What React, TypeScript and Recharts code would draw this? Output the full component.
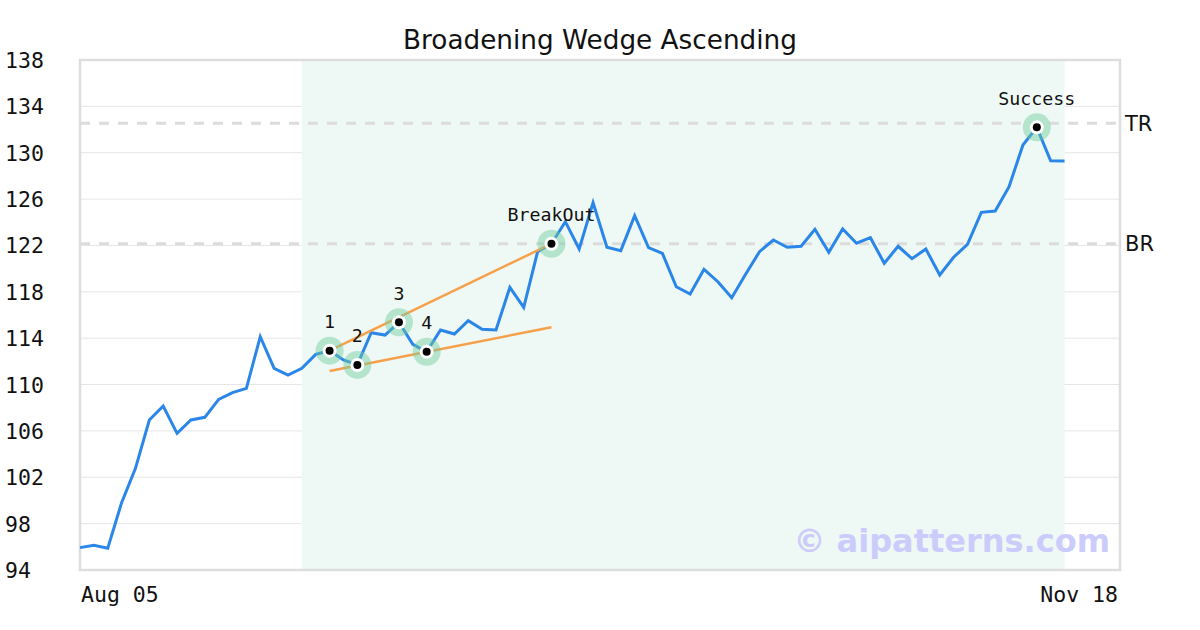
import React from "react"
import {
  ComposedChart,
  Line,
  Scatter,
  XAxis,
  YAxis,
  CartesianGrid,
  ReferenceArea,
  ReferenceLine,
} from "recharts"

// closing prices, one per trading day from Aug 05
const prices = [
  95.93, 96.13, 95.87, 99.81, 102.77, 106.94, 108.15, 105.79, 106.94, 107.17,
  108.72, 109.3, 109.67, 114.13, 111.4, 110.82, 111.4, 112.6, 112.92, 112.12,
  111.69, 114.47, 114.27, 115.37, 113.47, 112.83, 114.71, 114.36, 115.51, 114.77,
  114.71, 118.39, 116.66, 121.46, 122.15, 124.05, 121.69, 125.69, 121.84, 121.55,
  124.57, 121.81, 121.32, 118.44, 117.81, 119.94, 118.87, 117.49, 119.51, 121.46,
  122.47, 121.84, 121.93, 123.39, 121.41, 123.42, 122.19, 122.67, 120.46, 121.93,
  120.86, 121.69, 119.45, 120.98, 122.1, 124.86, 124.97, 127.07, 130.67, 132.19,
  129.31, 129.29,
]

const pivots = [
  { i: 18, v: 112.92, label: "1" },
  { i: 20, v: 111.69, label: "2" },
  { i: 23, v: 115.37, label: "3" },
  { i: 25, v: 112.83, label: "4" },
  { i: 34, v: 122.15, label: "BreakOut" },
  { i: 69, v: 132.19, label: "Success" },
]

const upperLine = [
  { i: 18, v: 112.92 },
  { i: 34, v: 122.15 },
]
const lowerLine = [
  { i: 18, v: 111.17 },
  { i: 34, v: 114.94 },
]

const patternStart = 16
const patternEnd = 71
const xDomain = [0, 75]
const xTicks = [0, 75]
const xLabels = ["Aug 05", "Nov 18"]
const yTicks = [94, 98, 102, 106, 110, 114, 118, 122, 126, 130, 134, 138]
const topResistance = 132.54
const breakoutLevel = 122.15

const data = prices.map((v, i) => ({ i, v }))

const mono = "'DejaVu Sans Mono', monospace"
const sans = "'DejaVu Sans', sans-serif"

function YTick({ y, payload }: any) {
  return (
    <text x={5} y={y + 0.5} dominantBaseline="central" fontFamily={mono} fontSize={21.5} fill="#111">
      {payload.value}
    </text>
  )
}

function XTick({ x, y, payload, index }: any) {
  return (
    <text
      x={index === 0 ? x + 1 : x - 2}
      y={y + 16}
      dominantBaseline="central"
      textAnchor={index === 0 ? "start" : "end"}
      fontFamily={mono}
      fontSize={21.5}
      fill="#111"
    >
      {xLabels[index]}
    </text>
  )
}

function PivotMarker({ cx, cy, payload }: any) {
  return (
    <g>
      <circle cx={cx} cy={cy} r={14} fill="rgb(110,205,158)" fillOpacity={0.45} />
      <circle cx={cx} cy={cy} r={7} fill="#fff" />
      <circle cx={cx} cy={cy} r={4} fill="#000" />
      <text
        x={cx}
        y={cy - 29}
        textAnchor="middle"
        dominantBaseline="central"
        fontFamily={mono}
        fontSize={18.3}
        fill="#111"
      >
        {payload.label}
      </text>
    </g>
  )
}

export default function App() {
  return (
    <div style={{ position: "absolute", left: 0, top: 0, width: 1200, height: 630, background: "#fff" }}>
      <div
        style={{
          position: "absolute",
          left: 0,
          top: 24,
          width: 1200,
          textAlign: "center",
          fontFamily: sans,
          fontSize: 26.3,
          color: "#111",
          lineHeight: "32px",
        }}
      >
        Broadening Wedge Ascending
      </div>
      <ComposedChart
        width={1200}
        height={630}
        data={data}
        margin={{ top: 60, right: 80, left: 0, bottom: 0 }}
      >
        <ReferenceArea
          x1={patternStart}
          x2={patternEnd}
          y1={94}
          y2={138}
          fill="#eef8f4"
          fillOpacity={1}
          stroke="none"
        />
        <CartesianGrid vertical={false} stroke="#e6e6e6" />
        <XAxis
          dataKey="i"
          type="number"
          domain={xDomain}
          ticks={xTicks}
          axisLine={false}
          tickLine={false}
          height={60}
          tick={<XTick />}
        />
        <YAxis
          type="number"
          domain={[94, 138]}
          ticks={yTicks}
          axisLine={false}
          tickLine={false}
          width={80}
          tick={<YTick />}
        />
        <ReferenceLine
          y={topResistance}
          stroke="#dcdcdc"
          strokeWidth={3}
          strokeDasharray="10 9"
          label={{ value: "TR", position: "right", fontFamily: sans, fontSize: 21, fill: "#111", offset: 5 }}
        />
        <ReferenceLine
          y={breakoutLevel}
          stroke="#dcdcdc"
          strokeWidth={3}
          strokeDasharray="10 9"
          label={{ value: "BR", position: "right", fontFamily: sans, fontSize: 21, fill: "#111", offset: 5 }}
        />
        <ReferenceArea
          x1={xDomain[0]}
          x2={xDomain[1]}
          y1={94}
          y2={138}
          fill="none"
          stroke="#dddddd"
          strokeWidth={2.5}
        />
        <Line
          dataKey="v"
          stroke="#2a86e8"
          strokeWidth={3}
          dot={false}
          isAnimationActive={false}
        />
        <Line
          data={upperLine}
          dataKey="v"
          stroke="#f7a04b"
          strokeWidth={2.5}
          dot={false}
          isAnimationActive={false}
        />
        <Line
          data={lowerLine}
          dataKey="v"
          stroke="#f7a04b"
          strokeWidth={2.5}
          dot={false}
          isAnimationActive={false}
        />
        <Scatter data={pivots} dataKey="v" shape={<PivotMarker />} isAnimationActive={false} />
      </ComposedChart>
      <div
        style={{
          position: "absolute",
          right: 90,
          top: 521,
          fontFamily: sans,
          fontWeight: "bold",
          fontSize: 32,
          color: "#ccccfc",
          lineHeight: "40px",
        }}
      >
        © aipatterns.com
      </div>
    </div>
  )
}
